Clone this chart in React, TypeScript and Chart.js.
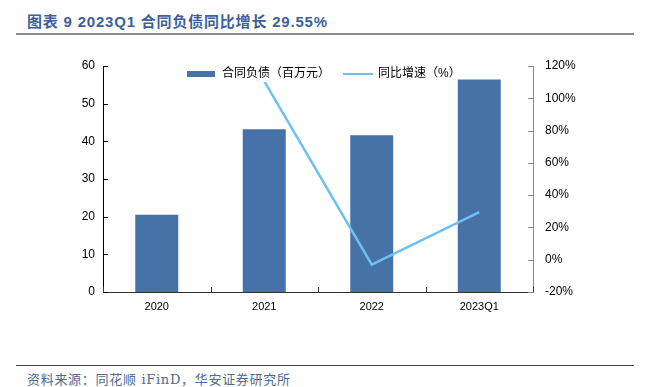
import React, { useEffect, useRef } from "react";
import { Chart, registerables } from "chart.js";

Chart.register(...registerables);

const categories = ["2020", "2021", "2022", "2023Q1"];
const liabilities = [20.5, 43.2, 41.6, 56.4];
const growth = [null, 110.7, -3.0, 29.55];
const leftTicks = [0, 10, 20, 30, 40, 50, 60];
const rightTicks = [-20, 0, 20, 40, 60, 80, 100, 120];

const BAR_COLOR = "#4672A8";
const LINE_COLOR = "#6DC0F2";
const FONT = "'Liberation Sans', Arial, 'Noto Sans CJK SC', sans-serif";

const inwardTicks = {
  id: "inwardTicks",
  afterDraw(chart: any) {
    const { ctx, chartArea } = chart;
    const y = chart.scales.y;
    const y1 = chart.scales.y1;
    ctx.save();
    ctx.lineWidth = 1;
    ctx.strokeStyle = "#000";
    leftTicks.forEach((v) => {
      const p = Math.round(y.getPixelForValue(v)) + 0.5;
      ctx.beginPath();
      ctx.moveTo(chartArea.left, p);
      ctx.lineTo(chartArea.left + 5, p);
      ctx.stroke();
    });
    ctx.strokeStyle = "#888";
    rightTicks.forEach((v) => {
      const p = Math.round(y1.getPixelForValue(v)) + 0.5;
      ctx.beginPath();
      ctx.moveTo(chartArea.right - 5, p);
      ctx.lineTo(chartArea.right, p);
      ctx.stroke();
    });
    ctx.strokeStyle = "#333";
    const n = categories.length;
    for (let i = 0; i <= n; i++) {
      const px = Math.round(chartArea.left + (i * (chartArea.right - chartArea.left)) / n) + 0.5;
      ctx.beginPath();
      ctx.moveTo(px, chartArea.bottom);
      ctx.lineTo(px, chartArea.bottom - 5);
      ctx.stroke();
    }
    ctx.restore();
  },
};

export default function App() {
  const ref = useRef<HTMLCanvasElement | null>(null);
  useEffect(() => {
    document.body.style.margin = "0";
    const canvas = ref.current!;
    const chart = new Chart(canvas, {
      type: "bar",
      data: {
        labels: categories,
        datasets: [
          {
            type: "line",
            label: "同比增速（%）",
            data: growth as any,
            yAxisID: "y1",
            borderColor: LINE_COLOR,
            backgroundColor: LINE_COLOR,
            borderWidth: 2.5,
            pointRadius: 0,
            tension: 0,
            order: 0,
          } as any,
          {
            type: "bar",
            label: "合同负债（百万元）",
            data: liabilities,
            yAxisID: "y",
            backgroundColor: BAR_COLOR,
            barPercentage: 0.4,
            categoryPercentage: 1,
            order: 1,
          },
        ],
      },
      plugins: [inwardTicks],
      options: {
        responsive: false,
        animation: false,
        devicePixelRatio: 1,
        layout: { padding: { top: 26, left: 0, right: 0, bottom: 0 } },
        plugins: { legend: { display: false }, tooltip: { enabled: false } },
        scales: {
          x: {
            offset: true,
            grid: { display: false, drawTicks: false },
            border: { display: true, color: "#333", width: 1 },
            ticks: { color: "#000", font: { family: FONT, size: 11 }, padding: 8 },
            afterFit(scale: any) {
              scale.height = 38;
            },
          },
          y: {
            position: "left",
            min: 0,
            max: 60,
            afterBuildTicks(scale: any) {
              scale.ticks = leftTicks.map((v) => ({ value: v }));
            },
            grid: { display: false, drawTicks: false },
            border: { display: true, color: "#000", width: 1 },
            ticks: { color: "#000", font: { family: FONT, size: 12 }, padding: 8 },
            afterFit(scale: any) {
              scale.width = 103;
            },
          },
          y1: {
            position: "right",
            min: -20,
            max: 120,
            afterBuildTicks(scale: any) {
              scale.ticks = rightTicks.map((v) => ({ value: v }));
            },
            grid: { display: false, drawTicks: false },
            border: { display: true, color: "#888", width: 1 },
            ticks: {
              color: "#000",
              font: { family: FONT, size: 12 },
              padding: 12,
              callback: (v: any) => `${v}%`,
            },
            afterFit(scale: any) {
              scale.width = 116;
            },
          },
        },
      },
    });
    return () => chart.destroy();
  }, []);

  return (
    <div style={{ position: "relative", width: 649, height: 387, background: "#fff", overflow: "hidden" }}>
      <div
        style={{
          position: "absolute",
          left: 27,
          top: 10,
          fontFamily: "'Liberation Sans', Arial, 'Noto Sans CJK SC', sans-serif",
          fontWeight: "bold",
          fontSize: 15,
          color: "#3D5F9B",
          whiteSpace: "nowrap",
          letterSpacing: 0.8,
        }}
      >
        图表 9 2023Q1 合同负债同比增长 29.55%
      </div>
      <div style={{ position: "absolute", left: 16, top: 33, width: 618, height: 2, background: "#8a8a8a" }} />
      <canvas ref={ref} width={649} height={290} style={{ position: "absolute", left: 0, top: 40 }} />
      <div
        style={{
          position: "absolute",
          left: 183,
          top: 67,
          width: 272,
          height: 15,
          background: "#fff",
          fontFamily: FONT,
          fontSize: 12,
          color: "#000",
          whiteSpace: "nowrap",
        }}
      >
        <div style={{ position: "absolute", left: 4, top: 4, width: 28, height: 6, background: BAR_COLOR }} />
        <div style={{ position: "absolute", left: 39, top: -1, lineHeight: "15px" }}>合同负债（百万元）</div>
        <div style={{ position: "absolute", left: 160, top: 6, width: 30, height: 2, background: LINE_COLOR }} />
        <div style={{ position: "absolute", left: 195, top: -1, lineHeight: "15px" }}>同比增速（%）</div>
      </div>
      <div style={{ position: "absolute", left: 16, top: 365, width: 618, height: 1, background: "#444" }} />
      <div
        style={{
          position: "absolute",
          left: 27,
          top: 369,
          fontFamily: "'DejaVu Serif', 'Noto Sans CJK SC', serif",
          fontSize: 13,
          color: "#4F6A92",
          whiteSpace: "nowrap",
          letterSpacing: 0.7,
        }}
      >
        资料来源：同花顺 iFinD，华安证券研究所
      </div>
    </div>
  );
}
